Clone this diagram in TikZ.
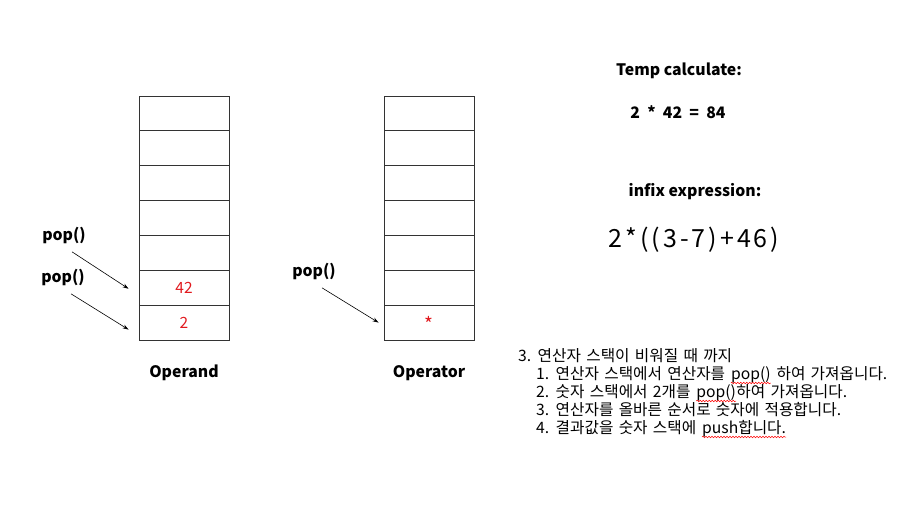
\documentclass[tikz,border=0pt]{standalone}
\usepackage{fontspec}
\setmainfont{Noto Sans CJK KR}
\newfontfamily\kofont{Noto Sans CJK KR}[WordSpace=1.5]
\usetikzlibrary{arrows.meta,positioning,decorations.pathmorphing}

\definecolor{valred}{RGB}{225,25,30}

\begin{document}
\begin{tikzpicture}[x=1pt,y=-1pt,
  cell/.style={draw=black!80, line width=0.9pt, minimum width=90pt, minimum height=34.86pt, inner sep=0pt},
  lbl/.style={font=\fontsize{15.8}{18}\selectfont\bfseries},
  val/.style={text=valred, font=\fontsize{15.5}{18}\selectfont},
  ko/.style={anchor=base west, inner sep=0pt, font=\kofont\fontsize{15.7}{18}\selectfont},
  spell/.style={draw=red, line width=0.5pt, decorate, decoration={snake, amplitude=0.8pt, segment length=3pt}},
  poparrow/.style={-{Stealth[length=6pt,width=4pt]}, line width=0.6pt}]
  % Parameters
  \def\h{34.86}
  \def\gap{5.5pt}
  \useasboundingbox (0,0) rectangle (909,504);

  % Operand stack (7 cells)
  \foreach \i in {1,...,7}
    \node[cell] (opd\i) at (184, {96+\h*(\i-0.5)}) {};

  % Operator stack (7 cells)
  \foreach \i in {1,...,7}
    \node[cell] (opr\i) at (429, {96+\h*(\i-0.5)}) {};

  % Stack contents
  \node[val] (v42) at (opd6) {42};
  \node[val] (v2) at (opd7) {2};
  \node[val, font=\fontsize{19}{20}\selectfont] (vmul) at (429,324) {*};

  % Stack names
  \node[lbl] (opdname) at (184,373) {Operand};
  \node[lbl] (oprname) at (429,373) {Operator};

  % pop() labels and arrows
  \node[lbl] (pop1) at (64,235) {pop()};
  \node[lbl] (pop2) at (63,277) {pop()};
  \node[lbl] (pop3) at (314,271) {pop()};
  \draw[poparrow] ([xshift=8pt,yshift=-5pt]pop1.south) -- ([xshift=-10pt,yshift=-1pt]opd6.west);
  \draw[poparrow] ([xshift=8pt,yshift=-5pt]pop2.south) -- ([xshift=-10pt,yshift=-7pt]opd7.west);
  \draw[poparrow] ([xshift=8pt,yshift=-5pt]pop3.south) -- ([xshift=-5pt]opr7.west);

  % Temp result and expression
  \node[lbl] (temp) at (679,71) {Temp calculate:};
  \node[lbl] (result) at (678,112) {2 ~*~ 42 ~=~ 84};
  \node[lbl] (infix) at (695,192) {infix expression:};
  \node[font=\fontsize{25}{30}\selectfont\addfontfeatures{LetterSpace=12}] (expr) at (694,240) {2*((3-7)+46)};

  % Steps
  \node[ko] (step0) at (518,361) {3. 연산자 스택이 비워질 때 까지};
  \node[ko] (step1) at (536,379) {1. 연산자 스택에서 연산자를};
  \node[ko] (step1w) at ([xshift=\gap]step1.base east) {pop()};
  \node[ko] (step1r) at ([xshift=\gap]step1w.base east) {하여 가져옵니다.};
  \node[ko] (step2) at (536,397) {2. 숫자 스택에서 2개를};
  \node[ko] (step2w) at ([xshift=\gap]step2.base east) {pop()};
  \node[ko] (step2r) at (step2w.base east) {하여 가져옵니다.};
  \node[ko] (step3) at (536,415) {3. 연산자를 올바른 순서로 숫자에 적용합니다.};
  \node[ko] (step4) at (536,433) {4. 결과값을 숫자 스택에};
  \node[ko] (step4w) at ([xshift=\gap]step4.base east) {push합니다.};

  % Spell-check marks
  \draw[spell] ([yshift=-4pt]step1w.base west) -- ([yshift=-4pt]step1w.base east);
  \draw[spell] ([yshift=-4pt]step2w.base west) -- ([yshift=-4pt]step2w.base east);
  \draw[spell] ([yshift=-4pt]step4w.base west) -- ([yshift=-4pt]step4w.base east);
\end{tikzpicture}
\end{document}
